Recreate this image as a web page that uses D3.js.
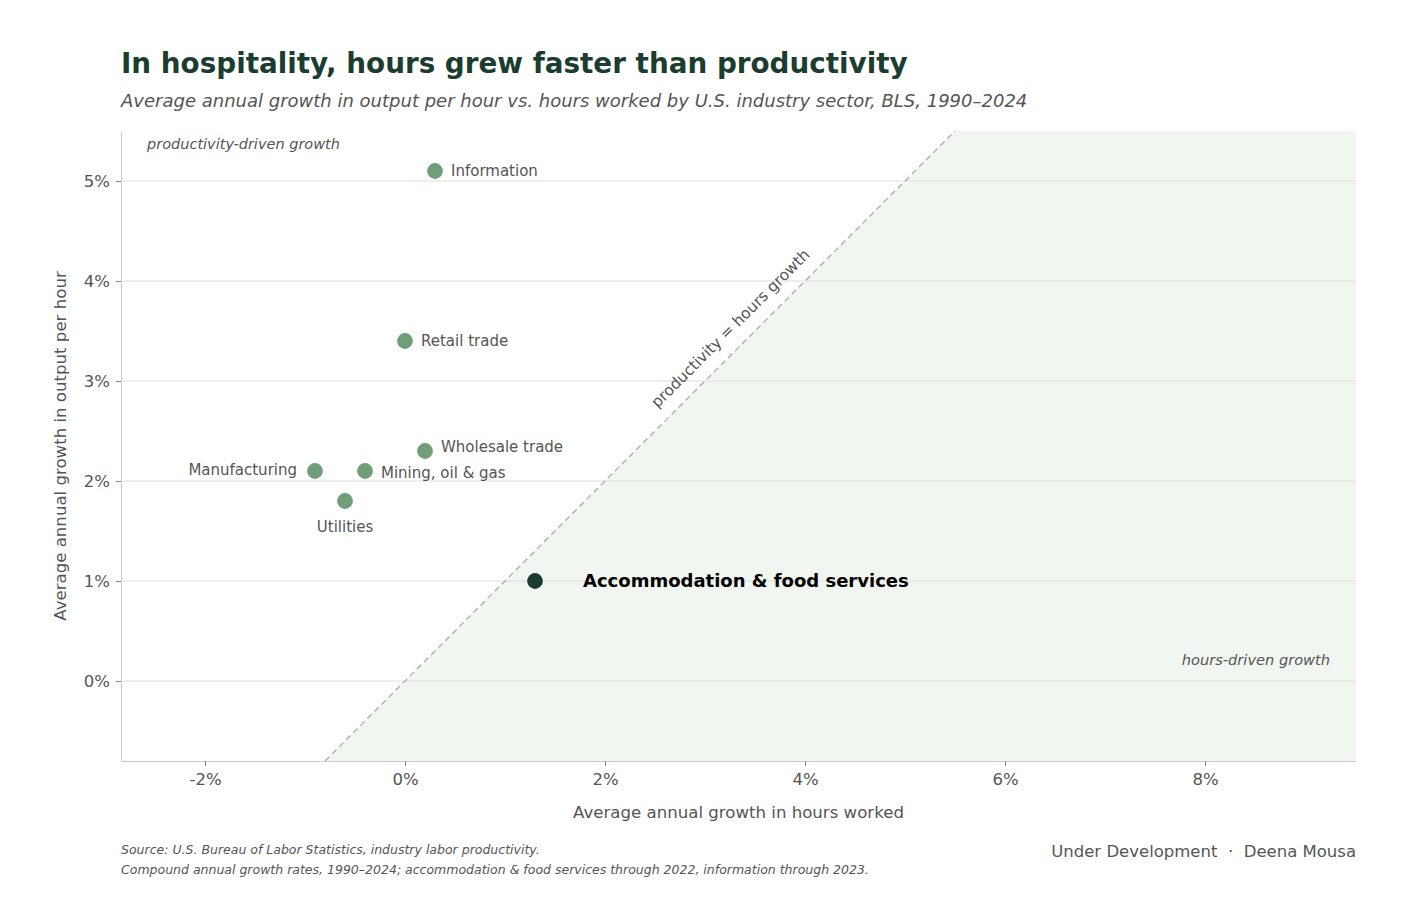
<!DOCTYPE html>
<html>
<head>
<meta charset="UTF-8">
<title>Hospitality hours vs productivity</title>
<script src="https://d3js.org/d3.v7.min.js"></script>
<style>
  body { margin: 0; background: #fff; }
  svg { display: block; font-family: "DejaVu Sans", sans-serif; }
</style>
</head>
<body>
<svg id="chart" width="1420" height="900"></svg>
<script>
// data: average annual growth, %
const sectors = ["Information", "Retail trade", "Wholesale trade", "Manufacturing",
                 "Mining, oil & gas", "Utilities", "Accommodation & food services"];
const hoursGrowth = [0.3, 0.0, 0.2, -0.9, -0.4, -0.6, 1.3];
const productivityGrowth = [5.1, 3.4, 2.3, 2.1, 2.1, 1.8, 1.0];
const highlight = "Accommodation & food services";
const xTicks = [-2, 0, 2, 4, 6, 8];
const yTicks = [0, 1, 2, 3, 4, 5];

// label placement (dx, dy, anchor)
const labelPos = {
  "Information": [16, 0, "start"],
  "Retail trade": [16, 0, "start"],
  "Wholesale trade": [16, -4, "start"],
  "Manufacturing": [-18, -1, "end"],
  "Mining, oil & gas": [16, 2, "start"],
  "Utilities": [0, 26, "middle"],
  "Accommodation & food services": [48, 0, "start"]
};

const svg = d3.select("#chart");
const m = { left: 121, right: 1356, top: 131, bottom: 761 };

const x = d3.scaleLinear().domain([-2.84, 9.51]).range([m.left, m.right]);
const y = d3.scaleLinear().domain([-0.8, 5.5]).range([m.bottom, m.top]);

const dark = "#1b3d2f", green = "#6f9e78", grey = "#555";

// title
svg.append("text").attr("x", 121).attr("y", 73)
  .attr("font-size", 27.8).attr("font-weight", "bold").attr("fill", dark)
  .text("In hospitality, hours grew faster than productivity");
svg.append("text").attr("x", 121).attr("y", 107)
  .attr("font-size", 18).attr("font-style", "italic").attr("fill", grey)
  .text("Average annual growth in output per hour vs. hours worked by U.S. industry sector, BLS, 1990\u20132024");

svg.append("clipPath").attr("id", "plot")
  .append("rect").attr("x", m.left).attr("y", m.top)
  .attr("width", m.right - m.left).attr("height", m.bottom - m.top);

const plot = svg.append("g").attr("clip-path", "url(#plot)");

// shaded hours-driven region (below y = x)
const xd = x.domain(), yd = y.domain();
const region = [[yd[0], yd[0]], [yd[1], yd[1]], [xd[1], yd[1]], [xd[1], yd[0]]];
plot.append("path")
  .attr("d", d3.line().x(d => x(d[0])).y(d => y(d[1]))(region) + "Z")
  .attr("fill", "#f1f6f0");

// gridlines
plot.selectAll(".grid").data(yTicks).join("line")
  .attr("x1", m.left).attr("x2", m.right)
  .attr("y1", d => y(d)).attr("y2", d => y(d))
  .attr("stroke", "#dddddd").attr("stroke-width", 1);

// parity line
plot.append("line")
  .attr("x1", x(yd[0])).attr("y1", y(yd[0]))
  .attr("x2", x(yd[1])).attr("y2", y(yd[1]))
  .attr("stroke", "#aaaaaa").attr("stroke-width", 1.3)
  .attr("stroke-dasharray", "6,4");

// axes
const xAxis = svg.append("g").attr("transform", `translate(0,${m.bottom})`)
  .call(d3.axisBottom(x).tickValues(xTicks).tickFormat(d => d + "%")
    .tickSizeInner(5).tickSizeOuter(0).tickPadding(7));
const yAxis = svg.append("g").attr("transform", `translate(${m.left},0)`)
  .call(d3.axisLeft(y).tickValues(yTicks).tickFormat(d => d + "%")
    .tickSizeInner(5).tickSizeOuter(0).tickPadding(6));
[xAxis, yAxis].forEach(a => {
  a.select(".domain").attr("stroke", "#cccccc");
  a.selectAll(".tick line").attr("stroke", "#888");
  a.selectAll(".tick text").attr("fill", grey).attr("font-size", 16.5)
    .attr("font-family", "DejaVu Sans, sans-serif");
});

svg.append("text").attr("x", (m.left + m.right) / 2).attr("y", 818)
  .attr("text-anchor", "middle").attr("font-size", 16.6).attr("fill", grey)
  .text("Average annual growth in hours worked");
svg.append("text")
  .attr("transform", `translate(66,${(m.top + m.bottom) / 2}) rotate(-90)`)
  .attr("text-anchor", "middle").attr("font-size", 16.6).attr("fill", grey)
  .text("Average annual growth in output per hour");

// region notes
svg.append("text").attr("x", 147).attr("y", 149)
  .attr("font-size", 14.5).attr("font-style", "italic").attr("fill", grey)
  .text("productivity-driven growth");
svg.append("text").attr("x", 1330).attr("y", 665)
  .attr("text-anchor", "end").attr("font-size", 14.6).attr("font-style", "italic").attr("fill", grey)
  .text("hours-driven growth");
svg.append("text")
  .attr("transform", `translate(${x(3.39)},${y(3.39)}) rotate(-45)`)
  .attr("text-anchor", "middle").attr("dy", -14)
  .attr("font-size", 15.4).attr("fill", grey)
  .text("productivity = hours growth");

// points
const pts = sectors.map((s, i) => ({ name: s, h: hoursGrowth[i], p: productivityGrowth[i] }));
svg.append("g").selectAll("circle").data(pts).join("circle")
  .attr("cx", d => x(d.h)).attr("cy", d => y(d.p)).attr("r", 8.5)
  .attr("fill", d => d.name === highlight ? dark : green)
  .attr("stroke", "#fff").attr("stroke-width", 1.2);

svg.append("g").selectAll("text").data(pts).join("text")
  .attr("x", d => x(d.h) + labelPos[d.name][0])
  .attr("y", d => y(d.p) + labelPos[d.name][1])
  .attr("dy", "0.35em")
  .attr("text-anchor", d => labelPos[d.name][2])
  .attr("font-size", d => d.name === highlight ? 18 : 15)
  .attr("font-weight", d => d.name === highlight ? "bold" : "normal")
  .attr("fill", d => d.name === highlight ? "#000" : grey)
  .text(d => d.name);

// footer
svg.append("text").attr("x", 121).attr("y", 854)
  .attr("font-size", 12.5).attr("font-style", "italic").attr("fill", grey)
  .text("Source: U.S. Bureau of Labor Statistics, industry labor productivity.");
svg.append("text").attr("x", 121).attr("y", 874)
  .attr("font-size", 12.5).attr("font-style", "italic").attr("fill", grey)
  .text("Compound annual growth rates, 1990\u20132024; accommodation & food services through 2022, information through 2023.");
svg.append("text").attr("x", 1356).attr("y", 857)
  .attr("text-anchor", "end").attr("font-size", 16.5).attr("fill", grey)
  .style("white-space", "pre")
  .text("Under Development  \u00b7  Deena Mousa");
</script>
</body>
</html>
